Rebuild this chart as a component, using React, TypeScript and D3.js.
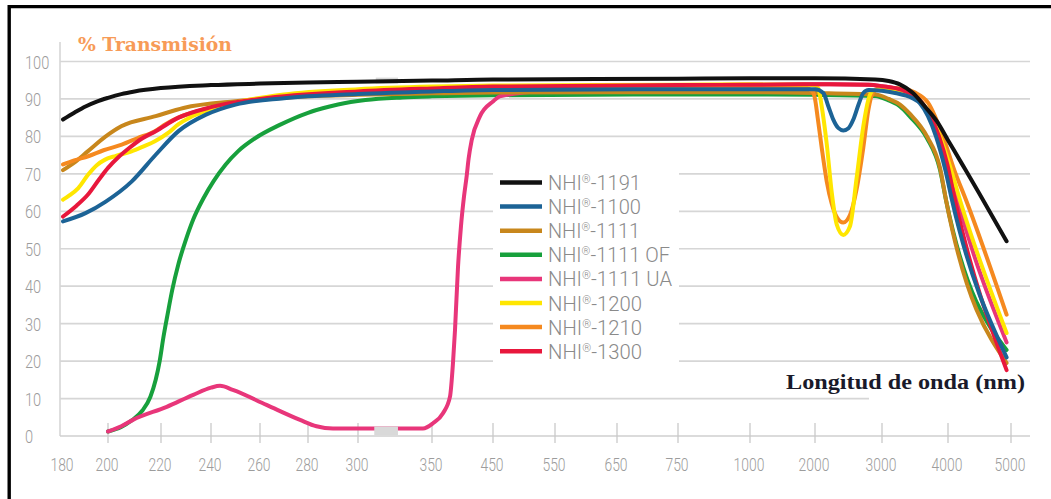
import React from 'react';
import * as d3 from 'd3';

type Pt = [number, number];

// x axis: piecewise (broken) wavelength axis, nm
const xTicks = [180, 200, 220, 240, 260, 280, 300, 350, 450, 550, 650, 750, 1000, 2000, 3000, 4000, 5000];
const xTickPx = [63, 108, 161, 211, 260, 308, 358, 432, 493, 555, 617, 678, 750, 815, 882, 948, 1011];
const yTicks = [0, 10, 20, 30, 40, 50, 60, 70, 80, 90, 100];

const nhi1191: Pt[] = [
  [180, 84.5], [185, 86.3], [190, 88], [195, 89.3], [200, 90.3], [205, 91.3], [210, 92], [220, 92.9],
  [240, 93.7], [260, 94.1], [280, 94.4], [300, 94.6], [350, 94.9], [450, 95.2], [750, 95.4], [1000, 95.5],
  [2000, 95.5], [2900, 95.2], [3100, 94.8], [3270, 93.9], [3460, 91.7], [3650, 88], [3833, 84],
  [4000, 79], [4238, 72.2], [4492, 64.9], [4930, 52],
];
const nhi1100: Pt[] = [
  [180, 57.3], [190, 59.5], [199, 62.6], [209, 68], [218, 75.1], [227, 81.4], [238, 85.8], [250, 88.5],
  [270, 90.2], [300, 91.3], [350, 92], [450, 92.4], [750, 92.6], [1000, 92.6], [2000, 92.6], [2124, 91.6],
  [2200, 88], [2273, 84.5], [2350, 82.2], [2422, 81.6], [2500, 82.2], [2572, 84.5], [2650, 88.5],
  [2721, 91.6], [2800, 92.4], [3000, 92.2], [3200, 91.6], [3450, 90.3], [3576, 88.8], [3818, 80],
  [3960, 71], [4063, 63], [4930, 21],
];
const nhi1111: Pt[] = [
  [180, 71], [185, 73], [191, 76], [199, 80], [205, 82.7], [218, 85.4], [229, 87.6], [250, 89.4],
  [270, 90.4], [300, 91.1], [350, 91.5], [450, 91.7], [750, 91.8], [1000, 91.8], [2000, 91.6],
  [2900, 91.2], [3100, 90], [3273, 88.5], [3424, 86], [3682, 80], [3880, 71.5], [3970, 63], [4930, 19.5],
];
const nhi1111OF: Pt[] = [
  [200, 1.2], [205, 2.4], [209, 4.2], [213, 6.8], [216, 10.5], [218, 15], [219.5, 20], [221, 26.5],
  [222.5, 32], [224.5, 39], [227, 46], [230, 52.5], [233, 58], [237, 63.5], [241, 68], [246, 72.5],
  [251, 76], [258, 79.5], [268, 83], [280, 86.3], [292, 88.5], [305, 89.7], [330, 90.4], [350, 90.7],
  [450, 91], [750, 91.2], [1000, 91.2], [2000, 91.1], [2900, 90.8], [3100, 89.6], [3273, 88],
  [3424, 85.3], [3682, 79.5], [3880, 71], [3970, 63], [4930, 23],
];
const nhi1111UA: Pt[] = [
  [200, 1.2], [205, 2.6], [209.4, 4.3], [222.3, 7.8], [232.9, 11], [240, 12.9], [243.7, 13.4],
  [248.9, 12.3], [262.7, 8.3], [276.7, 4.3], [283.4, 2.6], [290, 2.0], [310, 2.0], [343.9, 2.0],
  [351.6, 3.4], [368, 6.1], [379.5, 10.5], [384.4, 19.5], [387.7, 28.3], [392.6, 45], [397.5, 56],
  [402.5, 64], [406.9, 69.5], [410, 74], [415.1, 79], [428.7, 85.4], [450.5, 89.4], [461, 90.7],
  [550, 92.5], [650, 93.2], [750, 93.6], [1000, 93.8], [2000, 93.9], [2800, 93.8], [3000, 93.4],
  [3300, 92.3], [3606, 89], [3864, 80], [4010, 72], [4150, 63], [4930, 25],
];
const nhi1200: Pt[] = [
  [180, 63.1], [183, 64.3], [186.8, 66.2], [191.2, 69.8], [195, 72.3], [198.7, 73.8], [203, 74.8],
  [208.9, 76], [213, 77.2], [217.7, 78.7], [223, 81], [226.9, 83.2], [232, 85.2], [237.6, 86.7],
  [249.8, 89], [270, 91.2], [300, 92.6], [350, 93.3], [450, 93.6], [750, 93.8], [1000, 93.9],
  [1900, 93.8], [2000, 93.6], [2050, 92.8], [2100, 88], [2175, 78], [2250, 65], [2324, 56.5],
  [2422, 53.7], [2522, 56], [2622, 69], [2721, 82.7], [2796, 89.8], [2870, 92.3], [3000, 92.6],
  [3300, 92], [3606, 89], [3879, 80], [4050, 71], [4190, 63], [4930, 27.5],
];
const nhi1210: Pt[] = [
  [180, 72.5], [185, 73.6], [191.2, 74.7], [198, 76.3], [205.2, 77.8], [211, 79.5], [217.7, 81.4],
  [222, 83.3], [226.9, 85], [235, 86.8], [245, 88.3], [260, 89.7], [280, 90.8], [300, 91.6], [350, 92.4],
  [450, 92.8], [750, 93.1], [1000, 93.2], [1850, 93], [1960, 92], [2000, 90], [2040, 85], [2100, 77],
  [2175, 68], [2250, 62], [2324, 58.5], [2422, 57], [2522, 59], [2622, 66], [2721, 77], [2796, 87],
  [2870, 91.8], [3000, 93], [3300, 92.8], [3500, 91.7], [3697, 89], [3924, 80], [4100, 71], [4286, 63],
  [4930, 32.4],
];
const nhi1300: Pt[] = [
  [180, 58.6], [186, 61.5], [191, 64.4], [196, 68.5], [200, 71.6], [204, 74.5], [208, 76.9], [213, 79.5],
  [218, 81.4], [227, 85], [240, 87.8], [260, 90], [300, 92], [350, 92.8], [450, 93.3], [750, 93.7],
  [1000, 93.8], [2000, 93.9], [2800, 93.8], [3000, 93.4], [3300, 92.4], [3606, 89], [3864, 80],
  [3990, 72.5], [4110, 63], [4930, 17.6],
];

const legendNames = ['NHI®-1191', 'NHI®-1100', 'NHI®-1111', 'NHI®-1111 OF', 'NHI®-1111 UA', 'NHI®-1200', 'NHI®-1210', 'NHI®-1300'];
const legendColors = ['#111111', '#1c6396', '#c8871c', '#17a03c', '#e8367a', '#ffe600', '#f5891f', '#e8173c'];
const legendWidths = [93, 93, 92, 122, 124, 94, 94, 94];
const seriesData = [nhi1191, nhi1100, nhi1111, nhi1111OF, nhi1111UA, nhi1200, nhi1210, nhi1300];
const drawOrder = [3, 4, 2, 6, 5, 7, 1, 0];

const titleText = '% Transmisión';
const xTitleText = 'Longitud de onda (nm)';

export default function App() {
  const W = 1051;
  const H = 499;
  const x = d3.scaleLinear().domain(xTicks).range(xTickPx);
  const y = d3.scaleLinear().domain([0, 100]).range([436, 61.5]);
  const line = d3
    .line<Pt>()
    .x((d) => x(d[0]))
    .y((d) => y(d[1]))
    .curve(d3.curveMonotoneX);

  const gridColor = '#d6d6d6';
  const labelColor = '#9c9c9c';
  const gridRight = 1030;

  return (
    <svg width={W} height={H} style={{ position: 'absolute', left: 0, top: 0, background: '#fff' }}>
      <rect x={0} y={0} width={W} height={H} fill="#fff" />
      {/* frame (top & left) */}
      <line x1={9.2} y1={6.6} x2={1051} y2={6.6} stroke="#000" strokeWidth={3.4} />
      <line x1={9.2} y1={5} x2={9.2} y2={H} stroke="#000" strokeWidth={3.4} />

      {/* y axis line */}
      <line x1={60} y1={42} x2={60} y2={y(0)} stroke={gridColor} strokeWidth={1.6} />
      {/* grid lines */}
      {yTicks.map((t) => (
        <line key={'g' + t} x1={60} x2={gridRight} y1={y(t)} y2={y(t)} stroke={t === 0 ? '#cfcfcf' : gridColor} strokeWidth={1.7} />
      ))}
      {/* x ticks */}
      {xTicks.slice(1).map((t) => (
        <line key={'t' + t} x1={x(t)} x2={x(t)} y1={y(0) - 13} y2={y(0) + 7} stroke="#c9c9c9" strokeWidth={1.3} />
      ))}
      {/* y labels */}
      {yTicks.map((t) => {
        const s = String(t);
        return (
          <text key={'yl' + t} x={25} y={y(t) + 7} fontFamily="Roboto, 'DejaVu Sans', sans-serif" fontWeight={300}
            fontSize={18} fill={labelColor} textLength={8.1 * s.length} lengthAdjust="spacingAndGlyphs">
            {s}
          </text>
        );
      })}
      {/* x labels */}
      {xTicks.map((t) => {
        const s = String(t);
        const w = 7.7 * s.length;
        return (
          <text key={'xl' + t} x={x(t) - 1 - w / 2} y={471} fontFamily="Roboto, 'DejaVu Sans', sans-serif" fontWeight={300}
            fontSize={19} fill={labelColor} textLength={w} lengthAdjust="spacingAndGlyphs">
            {s}
          </text>
        );
      })}

      {/* legend background covering grid */}
      <rect x={493} y={150} width={186} height={219} fill="#fff" />
      {/* x title background covering grid */}
      <rect x={869} y={372} width={170} height={38} fill="#fff" />

      {/* axis break marker (top) */}
      <rect x={x(312)} y={y(94.9) - 3} width={x(327) - x(312)} height={6} fill="#d9d9d9" />

      {/* series */}
      {drawOrder.map((i) => (
        <path key={'s' + i} d={line(seriesData[i]) || ''} fill="none" stroke={legendColors[i]} strokeWidth={4}
          strokeLinecap="round" strokeLinejoin="round" />
      ))}
      {/* axis break marker (bottom) */}
      <rect x={x(311)} y={y(2) - 2} width={x(327) - x(311)} height={y(0) - y(2) + 1} fill="#d9d9d9" />

      {/* titles */}
      <text x={78} y={51} fontFamily="'DejaVu Serif', serif" fontWeight="bold" fontSize={19} fill="#f79b57"
        textLength={154} lengthAdjust="spacingAndGlyphs">
        {titleText}
      </text>
      <text x={786} y={389} fontFamily="'Liberation Serif', serif" fontWeight="bold" fontSize={20.5} fill="#1a1a2a"
        textLength={239} lengthAdjust="spacingAndGlyphs">
        {xTitleText}
      </text>

      {/* legend */}
      {legendNames.map((name, i) => {
        const ly = 182.5 + i * 24.1;
        const [pre, post] = name.split('®');
        return (
          <g key={'lg' + i}>
            <line x1={500} x2={542} y1={ly} y2={ly} stroke={legendColors[i]} strokeWidth={4.5} />
            <text x={548} y={ly + 7.5} fontFamily="Roboto, 'DejaVu Sans', sans-serif" fontWeight={300} fontSize={20}
              fill="#8a8a8a" textLength={legendWidths[i]} lengthAdjust="spacingAndGlyphs">
              {pre}
              <tspan fontSize={11} dy={-7}>®</tspan>
              <tspan dy={7}>{post}</tspan>
            </text>
          </g>
        );
      })}
    </svg>
  );
}
